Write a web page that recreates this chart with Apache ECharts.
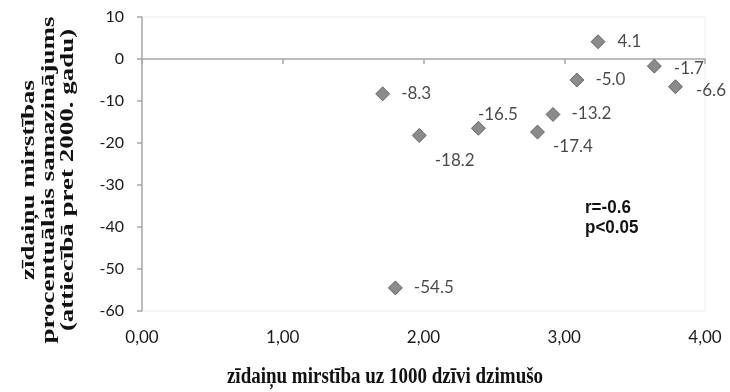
<!DOCTYPE html>
<html>
<head>
<meta charset="utf-8">
<script src="https://cdn.jsdelivr.net/npm/echarts@6/dist/echarts.min.js"></script>
<style>html,body{margin:0;padding:0;background:#fff}#c{width:730px;height:392px}</style>
</head>
<body>
<div id="c"></div>
<script>
// Data
const xValues = [1.71, 1.97, 2.39, 2.81, 2.92, 3.09, 3.24, 3.64, 3.79, 1.80];
const yValues = [-8.3, -18.2, -16.5, -17.4, -13.2, -5.0, 4.1, -1.7, -6.6, -54.5];
const xTickLabels = ['0,00', '1,00', '2,00', '3,00', '4,00'];
const yTitle = 'zīdaiņu mirstības\nprocentuālais samazinājums\n(attiecībā pret 2000. gadu)';
const xTitle = 'zīdaiņu mirstība uz 1000 dzīvi dzimušo';
const statText = 'r=-0.6\np<0.05';

// label offsets (style only): [dx of text left from marker centre, dy of text centre]
const labelOffsets = [[19,0],[16,26],[0,-13],[16,15],[19,0],[19,0],[20,0],[20,3],[21,4],[19,0]];
const SYM = 14;

const data = xValues.map((x, i) => ({
  value: [x, yValues[i]],
  label: {position: [labelOffsets[i][0] + SYM/2, labelOffsets[i][1] + SYM/2]}
}));

const chart = echarts.init(document.getElementById('c'), null, {renderer: 'canvas'});
const axisGray = '#a8a8a8';
chart.setOption({
  backgroundColor: '#ffffff',
  animation: false,
  grid: {left: 142, right: 25, top: 17, bottom: 81, show: true, borderColor: '#f0f0f0', borderWidth: 1, backgroundColor: 'transparent'},
  xAxis: [{
    type: 'value', min: 0, max: 4, interval: 1, position: 'bottom',
    axisLine: {show: false, onZero: false},
    axisTick: {show: false},
    splitLine: {show: false},
    axisLabel: {margin: 18, color: '#1a1a1a', fontFamily: 'Lato', fontSize: 17,
      formatter: v => xTickLabels[Math.round(v)]}
  }, {
    type: 'value', min: 0, max: 4, interval: 1, position: 'bottom',
    axisLine: {show: true, onZero: true, lineStyle: {color: axisGray, width: 1.5}},
    axisTick: {show: true, length: 5, lineStyle: {color: axisGray, width: 1.5}},
    axisLabel: {show: false},
    splitLine: {show: false}
  }],
  yAxis: {
    type: 'value', min: -60, max: 10, interval: 10,
    axisLine: {show: true, onZero: false, lineStyle: {color: axisGray, width: 1.5}},
    axisTick: {show: true, length: 5, lineStyle: {color: axisGray, width: 1.5}},
    splitLine: {show: false},
    axisLabel: {margin: 18, color: '#1a1a1a', fontFamily: 'Lato', fontSize: 16}
  },
  series: [{
    type: 'scatter',
    xAxisIndex: 0,
    symbol: 'diamond',
    symbolSize: SYM,
    itemStyle: {color: '#6e6e6e', borderColor: '#555', borderWidth: 1},
    label: {show: true, align: 'left', verticalAlign: 'middle', color: '#1a1a1a',
      fontFamily: 'Lato', fontSize: 17,
      formatter: p => p.value[1].toFixed(1)},
    data: data
  }],
  graphic: [
    {type: 'text', x: 49, y: 180, rotation: Math.PI/2, scaleX: 1.42, scaleY: 1,
     style: {text: yTitle, align: 'center', verticalAlign: 'middle',
       fontFamily: 'Liberation Serif', fontWeight: 'bold', fontSize: 19, fill: '#111', lineHeight: 19.5}},
    {type: 'text', x: 385, y: 377, scaleX: 1, scaleY: 1.25,
     style: {text: xTitle, align: 'center', verticalAlign: 'middle',
       fontFamily: 'Liberation Serif', fontWeight: 'bold', fontSize: 19, fill: '#111'}},
    {type: 'text', x: 585, y: 218, scaleX: 1, scaleY: 1.1,
     style: {text: statText, align: 'left', verticalAlign: 'middle',
       fontFamily: 'Liberation Sans', fontWeight: 'bold', fontSize: 17, fill: '#111', lineHeight: 18}}
  ]
});
</script>
</body>
</html>
